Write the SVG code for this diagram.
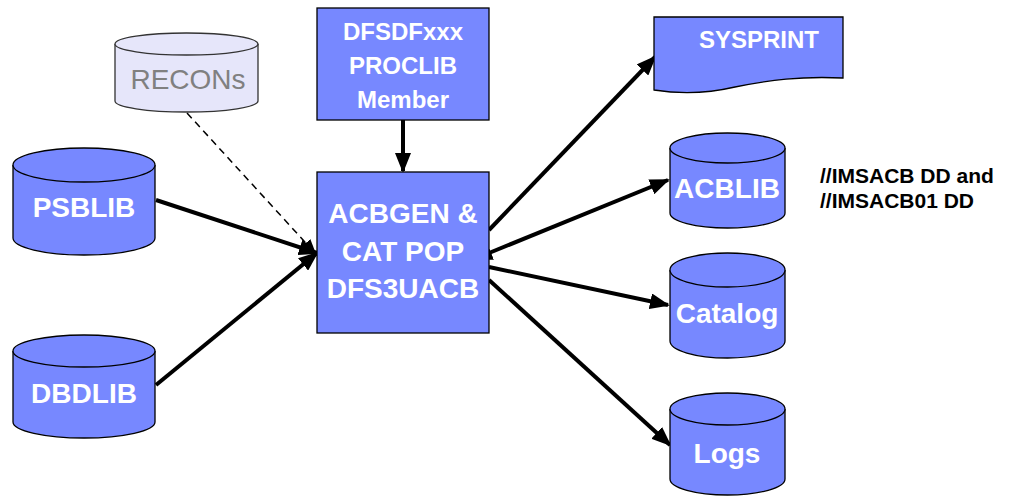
<svg xmlns="http://www.w3.org/2000/svg" width="1010" height="497" viewBox="0 0 1010 497">
<style>
.s{fill:#7788FF;stroke:#000;stroke-width:1.3}
.r{fill:#E6E6FA;stroke:#333;stroke-width:1.3}
.t{font-family:"Liberation Sans",Arial,sans-serif;font-weight:bold;fill:#fff;text-anchor:middle}
.c{stroke:#000;stroke-width:4;fill:none}
.d{stroke:#000;stroke-width:1.5;fill:none;stroke-dasharray:7,5}
.k{font-family:"Liberation Sans",Arial,sans-serif;font-weight:bold;fill:#000;font-size:21px}
</style>
<defs>
<marker id="a" markerWidth="5" markerHeight="4" refX="4.5" refY="2" orient="auto" markerUnits="strokeWidth">
<path d="M0,0 L5,2 L0,4 Z" fill="#000"/>
</marker>
<marker id="as" markerWidth="5" markerHeight="4" refX="0.5" refY="2" orient="auto-start-reverse" markerUnits="strokeWidth">
<path d="M0,0 L5,2 L0,4 Z" fill="#000"/>
</marker>
<marker id="ad" markerWidth="10" markerHeight="8" refX="9" refY="4" orient="auto" markerUnits="strokeWidth">
<path d="M0,0 L10,4 L0,8 Z" fill="#000"/>
</marker>
</defs>
<g id="connectors">
<line class="d" x1="187" y1="113" x2="315" y2="253" marker-end="url(#ad)"/>
<line class="c" x1="156" y1="200" x2="317" y2="253" marker-end="url(#a)"/>
<line class="c" x1="156" y1="385" x2="317" y2="253" marker-end="url(#a)"/>
<line class="c" x1="403" y1="120" x2="403" y2="171" marker-end="url(#a)"/>
<line class="c" x1="489" y1="230" x2="655" y2="57" marker-end="url(#a)"/>
<line class="c" x1="489" y1="253" x2="668" y2="180" marker-start="url(#as)" marker-end="url(#a)"/>
<line class="c" x1="489" y1="267" x2="668" y2="305" marker-end="url(#a)"/>
<line class="c" x1="489" y1="280" x2="670" y2="445" marker-end="url(#a)"/>
</g>
<g id="recons">
<path class="r" d="M115,44 A71.5,11 0 0 1 258,44 V101 A71.5,11 0 0 1 115,101 Z"/>
<path class="r" d="M115,44 A71.5,11 0 0 0 258,44"/>
<text x="188" y="89" font-family="Liberation Sans,Arial,sans-serif" font-size="28" fill="#808080" text-anchor="middle">RECONs</text>
</g>
<g id="psblib">
<path class="s" d="M13,165 A71,17 0 0 1 155,165 V238 A71,17 0 0 1 13,238 Z"/>
<path class="s" d="M13,165 A71,17 0 0 0 155,165"/>
<text class="t" x="84" y="217" font-size="28">PSBLIB</text>
</g>
<g id="dbdlib">
<path class="s" d="M13,351 A71,16 0 0 1 155,351 V422 A71,16 0 0 1 13,422 Z"/>
<path class="s" d="M13,351 A71,16 0 0 0 155,351"/>
<text class="t" x="84" y="403" font-size="28">DBDLIB</text>
</g>
<g id="proclib">
<rect class="s" x="317" y="8" width="172" height="112"/>
<text class="t" font-size="24"><tspan x="403" y="40">DFSDFxxx</tspan><tspan x="403" y="74">PROCLIB</tspan><tspan x="403" y="108">Member</tspan></text>
</g>
<g id="acbgen">
<rect class="s" x="317" y="172" width="172" height="161"/>
<text class="t" font-size="28"><tspan x="403" y="223">ACBGEN &amp;</tspan><tspan x="403" y="261">CAT POP</tspan><tspan x="403" y="298">DFS3UACB</tspan></text>
</g>
<g id="sysprint">
<path class="s" d="M654,17 H843 V78 C800,76 770,80 735,87 C705,94 680,94 654,90 Z"/>
<text class="t" x="759" y="48" font-size="24">SYSPRINT</text>
</g>
<g id="acblib">
<path class="s" d="M670,148 A57.5,15 0 0 1 785,148 V213 A57.5,15 0 0 1 670,213 Z"/>
<path class="s" d="M670,148 A57.5,15 0 0 0 785,148"/>
<text class="t" x="727" y="198" font-size="28">ACBLIB</text>
</g>
<g id="catalog">
<path class="s" d="M670,270 A57.5,17 0 0 1 785,270 V341 A57.5,17 0 0 1 670,341 Z"/>
<path class="s" d="M670,270 A57.5,17 0 0 0 785,270"/>
<text class="t" x="727" y="323" font-size="28">Catalog</text>
</g>
<g id="logs">
<path class="s" d="M670,409 A57.5,16 0 0 1 785,409 V479 A57.5,16 0 0 1 670,479 Z"/>
<path class="s" d="M670,409 A57.5,16 0 0 0 785,409"/>
<text class="t" x="727" y="463" font-size="28">Logs</text>
</g>
<g id="ddnote">
<text class="k" x="820" y="183">//IMSACB DD and</text>
<text class="k" x="820" y="208">//IMSACB01 DD</text>
</g>
</svg>
